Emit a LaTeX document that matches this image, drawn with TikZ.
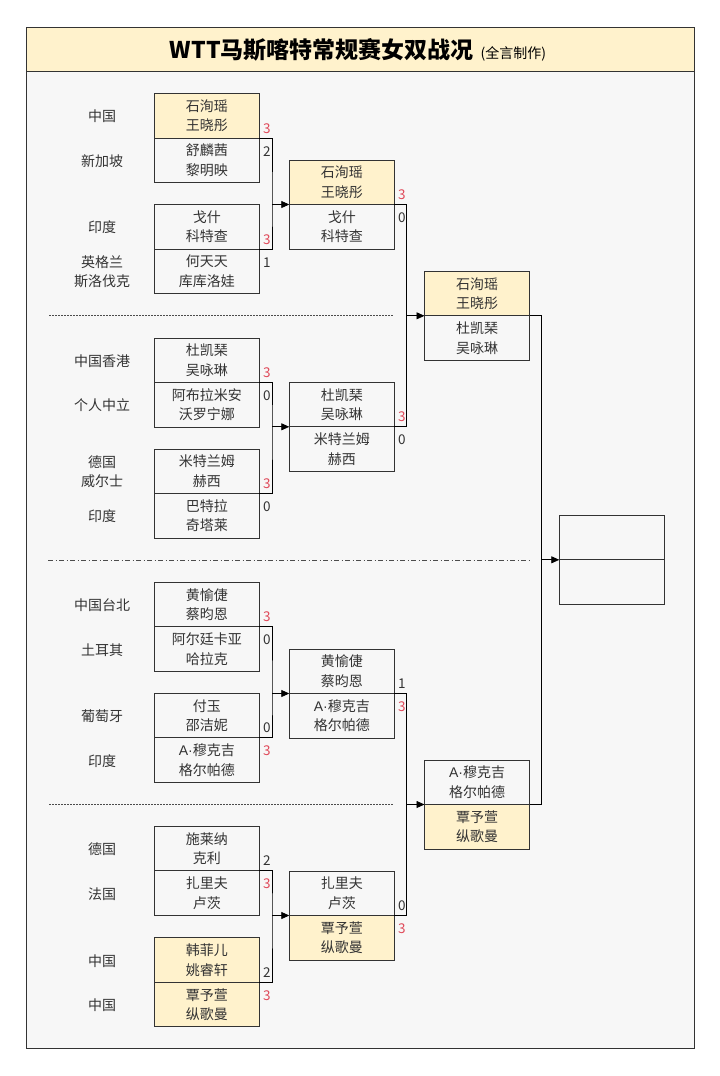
\documentclass[tikz,border=0pt]{standalone}
\usepackage{fontspec}
\setmainfont{Noto Sans CJK SC}
\newfontfamily\latinfont{Liberation Sans}
\usetikzlibrary{positioning,arrows.meta}

\definecolor{paper}{HTML}{F7F7F7}
\definecolor{cnfill}{HTML}{FFF2CC}
\definecolor{winred}{HTML}{E04A5A}
\definecolor{ink}{HTML}{333333}

\newcommand{\mkj}{{\latinfont A·}穆克吉}

\tikzset{
  cell/.style={draw=ink, line width=0.8pt, fill=paper, minimum width=105pt,
    minimum height=44.5pt, inner sep=0pt, outer sep=0pt, align=center,
    text=ink, font=\fontsize{14}{19.5}\selectfont,
    execute at begin node=\rule{0pt}{17pt}},
  cn/.style={cell, fill=cnfill},
  country/.style={align=center, text=ink, font=\fontsize{14}{19}\selectfont},
  score/.style={anchor=base west, inner sep=0pt, text=ink,
    font=\fontsize{13.5}{16}\selectfont},
  won/.style={score, text=winred},
  wire/.style={draw=black, line width=0.8pt},
  feed/.style={wire, -{Triangle[length=8pt,width=7pt]}},
  split/.style={draw=black!70, line width=0.7pt, dash pattern=on 2pt off 1pt},
  halfway/.style={draw=black!70, line width=0.7pt,
    dash pattern=on 5pt off 2.5pt on 1pt off 2.5pt},
}

\begin{document}
\begin{tikzpicture}[x=1pt, y=-1pt]
    \useasboundingbox (0,0) rectangle (720,1076);
    % frame and title
    \fill[white] (0,0) rectangle (720,1076);
    \draw[ink, line width=1.4pt, fill=paper] (26.7,27.5) rectangle (694.3,1048.3);
    \draw[ink, line width=1.4pt, fill=cnfill] (26.7,27.5) rectangle (694.3,71.5);
    \node[text=black] (title) at (358,50)
      {{\fontsize{23}{26}\selectfont\bfseries WTT马斯喀特常规赛女双战况}\hspace{7pt}%
       {\fontsize{14}{16}\selectfont (全言制作)}};

    % Define nodes: round 1
    \node[cn]   (m1a) at (206.8,115.75) {石洵瑶\\王晓彤};
    \node[cell, below=0pt of m1a] (m1b) {舒麟茜\\黎明映};
    \node[cell] (m2a) at (206.8,226.75) {戈什\\科特查};
    \node[cell, below=0pt of m2a] (m2b) {何天天\\库库洛娃};
    \node[cell] (m3a) at (206.8,360.25) {杜凯琹\\吴咏琳};
    \node[cell, below=0pt of m3a] (m3b) {阿布拉米安\\沃罗宁娜};
    \node[cell] (m4a) at (206.8,471.25) {米特兰姆\\赫西};
    \node[cell, below=0pt of m4a] (m4b) {巴特拉\\奇塔莱};
    \node[cell] (m5a) at (206.8,604.55) {黄愉倢\\蔡昀恩};
    \node[cell, below=0pt of m5a] (m5b) {阿尔廷卡亚\\哈拉克};
    \node[cell] (m6a) at (206.8,715.55) {付玉\\邵洁妮};
    \node[cell, below=0pt of m6a] (m6b) {\mkj\\格尔帕德};
    \node[cell] (m7a) at (206.8,848.55) {施莱纳\\克利};
    \node[cell, below=0pt of m7a] (m7b) {扎里夫\\卢茨};
    \node[cn]   (m8a) at (206.8,959.95) {韩菲儿\\姚睿轩};
    \node[cn, below=0pt of m8a] (m8b) {覃予萱\\纵歌曼};

    % countries
    \node[country] (c1a) at (102,116.5) {中国};
    \node[country] (c1b) at (102,161) {新加坡};
    \node[country] (c2a) at (102,227.5) {印度};
    \node[country] (c2b) at (102,272) {英格兰\\斯洛伐克};
    \node[country] (c3a) at (102,361) {中国香港};
    \node[country] (c3b) at (102,405.5) {个人中立};
    \node[country] (c4a) at (102,472) {德国\\威尔士};
    \node[country] (c4b) at (102,516.5) {印度};
    \node[country] (c5a) at (102,605.3) {中国台北};
    \node[country] (c5b) at (102,649.8) {土耳其};
    \node[country] (c6a) at (102,716.3) {葡萄牙};
    \node[country] (c6b) at (102,760.8) {印度};
    \node[country] (c7a) at (102,849.3) {德国};
    \node[country] (c7b) at (102,893.8) {法国};
    \node[country] (c8a) at (102,960.7) {中国};
    \node[country] (c8b) at (102,1005.2) {中国};

    % round 2, semifinals, final
    \node[cn]   (r1a) at (341.8,182.25) {石洵瑶\\王晓彤};
    \node[cell, below=0pt of r1a] (r1b) {戈什\\科特查};
    \node[cell] (r2a) at (341.8,404.55) {杜凯琹\\吴咏琳};
    \node[cell, below=0pt of r2a] (r2b) {米特兰姆\\赫西};
    \node[cell] (r3a) at (341.8,671.25) {黄愉倢\\蔡昀恩};
    \node[cell, below=0pt of r3a] (r3b) {\mkj\\格尔帕德};
    \node[cell] (r4a) at (341.8,893.25) {扎里夫\\卢茨};
    \node[cn, below=0pt of r4a] (r4b) {覃予萱\\纵歌曼};
    \node[cn]   (s1a) at (477,293.55) {石洵瑶\\王晓彤};
    \node[cell, below=0pt of s1a] (s1b) {杜凯琹\\吴咏琳};
    \node[cell] (s2a) at (477,782.25) {\mkj\\格尔帕德};
    \node[cn, below=0pt of s2a] (s2b) {覃予萱\\纵歌曼};
    \node[cell, execute at begin node={}] (fa) at (611.8,537.55) {};
    \node[cell, execute at begin node={}, below=0pt of fa] (fb) {};

    % scores
    \node[won]   (m1as) at ([shift={(3.5,-5)}]m1a.south east) {3};
    \node[score] (m1bs) at ([shift={(3.5,18)}]m1a.south east) {2};
    \node[won]   (m2as) at ([shift={(3.5,-5)}]m2a.south east) {3};
    \node[score] (m2bs) at ([shift={(3.5,18)}]m2a.south east) {1};
    \node[won]   (m3as) at ([shift={(3.5,-5)}]m3a.south east) {3};
    \node[score] (m3bs) at ([shift={(3.5,18)}]m3a.south east) {0};
    \node[won]   (m4as) at ([shift={(3.5,-5)}]m4a.south east) {3};
    \node[score] (m4bs) at ([shift={(3.5,18)}]m4a.south east) {0};
    \node[won]   (m5as) at ([shift={(3.5,-5)}]m5a.south east) {3};
    \node[score] (m5bs) at ([shift={(3.5,18)}]m5a.south east) {0};
    \node[score] (m6as) at ([shift={(3.5,-5)}]m6a.south east) {0};
    \node[won]   (m6bs) at ([shift={(3.5,18)}]m6a.south east) {3};
    \node[score] (m7as) at ([shift={(3.5,-5)}]m7a.south east) {2};
    \node[won]   (m7bs) at ([shift={(3.5,18)}]m7a.south east) {3};
    \node[score] (m8as) at ([shift={(3.5,-5)}]m8a.south east) {2};
    \node[won]   (m8bs) at ([shift={(3.5,18)}]m8a.south east) {3};
    \node[won]   (r1as) at ([shift={(3.5,-5)}]r1a.south east) {3};
    \node[score] (r1bs) at ([shift={(3.5,18)}]r1a.south east) {0};
    \node[won]   (r2as) at ([shift={(3.5,-5)}]r2a.south east) {3};
    \node[score] (r2bs) at ([shift={(3.5,18)}]r2a.south east) {0};
    \node[score] (r3as) at ([shift={(3.5,-5)}]r3a.south east) {1};
    \node[won]   (r3bs) at ([shift={(3.5,18)}]r3a.south east) {3};
    \node[score] (r4as) at ([shift={(3.5,-5)}]r4a.south east) {0};
    \node[won]   (r4bs) at ([shift={(3.5,18)}]r4a.south east) {3};

    % Connect nodes
    \coordinate (j1) at (272,204.5);
    \coordinate (j2) at (272,426.8);
    \coordinate (j3) at (272,693.5);
    \coordinate (j4) at (272,915.5);
    \coordinate (k1) at (406.7,315.8);
    \coordinate (k2) at (406.7,804.5);
    \coordinate (q)  at (541.7,559.8);
    \draw[wire] (m1a.south east) -| (j1) |- (m2a.south east);
    \draw[wire] (m3a.south east) -| (j2) |- (m4a.south east);
    \draw[wire] (m5a.south east) -| (j3) |- (m6a.south east);
    \draw[wire] (m7a.south east) -| (j4) |- (m8a.south east);
    \draw[feed] (j1) -- (r1a.south west);
    \draw[feed] (j2) -- (r2a.south west);
    \draw[feed] (j3) -- (r3a.south west);
    \draw[feed] (j4) -- (r4a.south west);
    \draw[wire] (r1a.south east) -| (k1) |- (r2a.south east);
    \draw[wire] (r3a.south east) -| (k2) |- (r4a.south east);
    \draw[feed] (k1) -- (s1a.south west);
    \draw[feed] (k2) -- (s2a.south west);
    \draw[wire] (s1a.south east) -| (q) |- (s2a.south east);
    \draw[feed] (q) -- (fa.south west);

    % section lines
    \draw[split] (49.3,315.7) -- (394,315.7);
    \draw[split] (49.3,804.3) -- (394,804.3);
    \draw[halfway] (48,560) -- (530.5,560);
\end{tikzpicture}
\end{document}
